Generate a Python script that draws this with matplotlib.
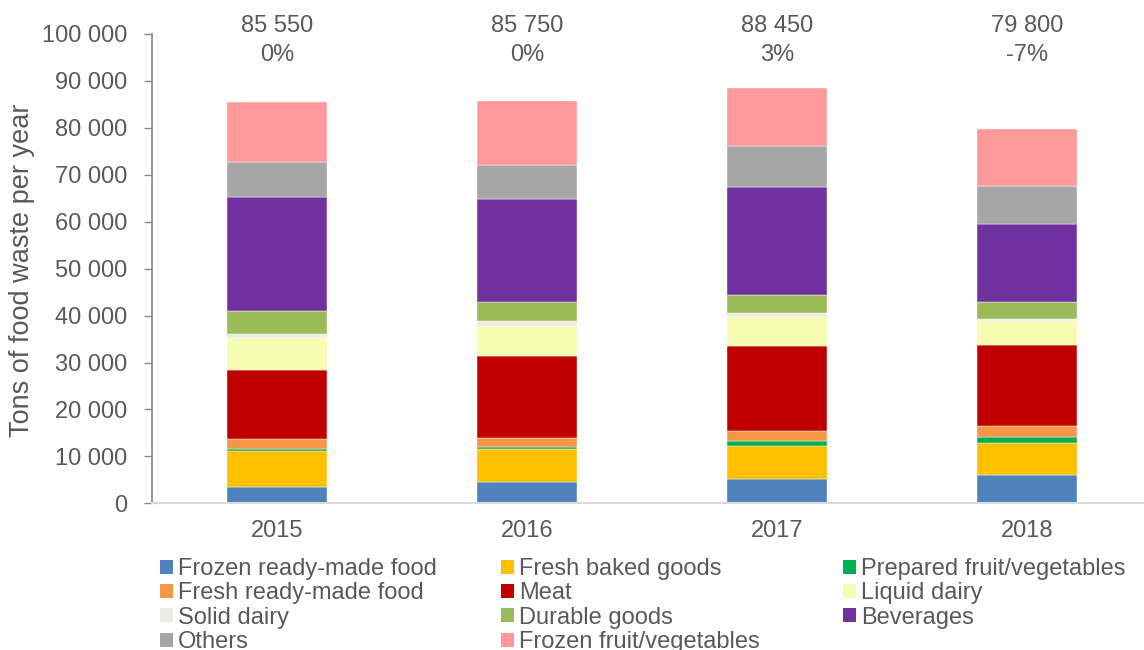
import matplotlib
matplotlib.use("Agg")
import matplotlib.pyplot as plt
from matplotlib.patches import Patch
from matplotlib.ticker import FuncFormatter
import numpy as np

plt.rcParams['font.family'] = ['Liberation Sans', 'DejaVu Sans']

years = ["2015", "2016", "2017", "2018"]

# Tons of food waste per category and year (bottom to top of each stack)
frozen_ready_made = [3500, 4600, 5200, 5950]
fresh_baked_goods = [7700, 7000, 6950, 6950]
prepared_fruit_veg = [400, 450, 1150, 1150]
fresh_ready_made = [2200, 1850, 2050, 2450]
meat = [14700, 17550, 18250, 17150]
liquid_dairy = [6700, 6400, 6100, 5250]
solid_dairy = [900, 950, 850, 300]
durable_goods = [4900, 4200, 3750, 3600]
beverages = [24300, 21900, 23200, 16800]
others = [7500, 7250, 8700, 8100]
frozen_fruit_veg = [12750, 13600, 12250, 12100]

series = [
    ("Frozen ready-made food", frozen_ready_made, "#4F81BD"),
    ("Fresh baked goods", fresh_baked_goods, "#FFC000"),
    ("Prepared fruit/vegetables", prepared_fruit_veg, "#00B050"),
    ("Fresh ready-made food", fresh_ready_made, "#F79646"),
    ("Meat", meat, "#C00000"),
    ("Liquid dairy", liquid_dairy, "#F6FCB0"),
    ("Solid dairy", solid_dairy, "#EEECE1"),
    ("Durable goods", durable_goods, "#9BBB59"),
    ("Beverages", beverages, "#7030A0"),
    ("Others", others, "#A6A6A6"),
    ("Frozen fruit/vegetables", frozen_fruit_veg, "#FF9999"),
]

text_color = "#595959"
fs = 17
W, H = 1144, 650
fig = plt.figure(figsize=(W / 100, H / 100), dpi=100)
ax_left, ax_right, ax_bottom, ax_top = 152, 1144, 503.3, 34
ax = fig.add_axes([ax_left / W, (H - ax_bottom) / H,
                   (ax_right - ax_left) / W, (ax_bottom - ax_top) / H])

x = np.arange(len(years))
bottom = np.zeros(len(years))
handles = {}
for name, vals, color in series:
    vals = np.array(vals, dtype=float)
    ax.bar(x, vals, width=0.4, bottom=bottom, color=color,
           edgecolor="white", linewidth=0.3)
    handles[name] = Patch(facecolor=color, edgecolor="none")
    bottom += vals

totals = bottom
base = totals[0]
for xi, tot in zip(x, totals):
    change = (tot - base) / base * 100
    label = f"{int(round(tot)):,}".replace(",", " ")
    ax.text(xi, 101700, label, ha="center", va="center", fontsize=fs,
            color=text_color, clip_on=False)
    ax.text(xi, 95500, f"{change:.0f}%", ha="center", va="center",
            fontsize=fs, color=text_color, clip_on=False)

ax.set_xlim(-0.5, -0.5 + (ax_right - ax_left) / 250)
ax.set_ylim(0, 100000)
ax.set_yticks(np.arange(0, 100001, 10000))
ax.yaxis.set_major_formatter(FuncFormatter(lambda v, p: f"{int(v):,}".replace(",", " ")))
ax.set_xticks(x)
ax.set_xticklabels(years)
ax.tick_params(axis="y", direction="out", length=6, width=1, color="#868686",
               labelsize=fs, labelcolor=text_color, pad=12)
ax.tick_params(axis="x", length=0, labelsize=fs, labelcolor=text_color, pad=12)
for s in ("top", "right"):
    ax.spines[s].set_visible(False)
ax.spines["left"].set_color("#868686")
ax.spines["left"].set_linewidth(1.2)
ax.spines["bottom"].set_color("#D9D9D9")
ax.spines["bottom"].set_linewidth(1.5)

fig.text(22 / W, 1 - 270 / H, "Tons of food waste per year", rotation=90,
         ha="center", va="center", fontsize=19.5, color=text_color)

# Legend laid out in three columns, read row by row
columns = [
    ["Frozen ready-made food", "Fresh ready-made food", "Solid dairy", "Others"],
    ["Fresh baked goods", "Meat", "Durable goods", "Frozen fruit/vegetables"],
    ["Prepared fruit/vegetables", "Liquid dairy", "Beverages"],
]
col_x = [160, 501, 843]
for cx, names in zip(col_x, columns):
    leg = fig.legend([handles[n] for n in names], names,
                     loc="upper left", bbox_to_anchor=(cx / W, 1 - 558 / H),
                     frameon=False, fontsize=fs, handlelength=0.55,
                     handleheight=0.55, handletextpad=0.22, labelspacing=0.1,
                     borderaxespad=0, borderpad=0)
    for t in leg.get_texts():
        t.set_color(text_color)

fig.savefig("out.png", dpi=100, facecolor="white")
